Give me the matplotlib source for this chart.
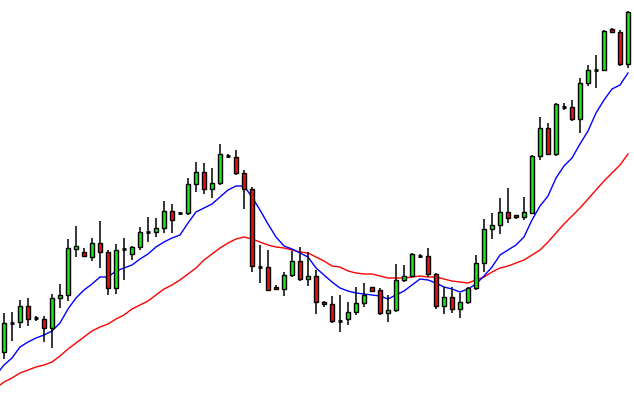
import numpy as np
import matplotlib
matplotlib.use("Agg")
import matplotlib.pyplot as plt

# OHLC (price units, higher = up)
opens = [48, 77, 78, 94, 82, 81, 72, 102, 105, 151, 148, 143, 157, 148, 112, 151, 146, 153, 168, 168,
         172, 189, 187, 187, 216, 228, 211, 217, 244, 243, 227, 211, 133, 133, 113, 111, 125, 139, 121, 124,
         98, 96, 79, 81, 88, 97, 113, 110, 87, 90, 120, 124, 144, 144, 126, 94, 103, 91, 98, 112,
         137, 171, 175, 188, 185, 183, 187, 244, 272, 246, 293, 293, 281, 317, 330, 330, 371, 368, 336]
highs = [87, 88, 100, 102, 84, 84, 106, 116, 161, 174, 152, 162, 179, 150, 156, 162, 154, 173, 183, 182,
         199, 196, 188, 222, 238, 237, 232, 256, 246, 250, 230, 213, 155, 150, 115, 128, 149, 153, 148, 130,
         99, 104, 105, 98, 113, 117, 113, 112, 105, 136, 135, 147, 146, 152, 127, 113, 113, 107, 113, 145,
         181, 187, 202, 212, 185, 203, 245, 283, 277, 297, 297, 300, 322, 335, 345, 370, 372, 370, 389]
lows = [41, 59, 72, 74, 79, 58, 52, 92, 99, 143, 143, 139, 132, 105, 106, 120, 140, 150, 158, 163,
        167, 167, 186, 185, 208, 206, 202, 215, 242, 225, 191, 128, 117, 110, 111, 104, 123, 119, 114, 86,
        93, 77, 68, 75, 85, 93, 108, 85, 78, 88, 118, 123, 142, 123, 91, 86, 87, 82, 96, 110,
        128, 161, 166, 177, 181, 180, 187, 240, 246, 244, 290, 279, 267, 314, 312, 330, 367, 334, 332]
closes = [77, 77, 94, 81, 82, 72, 102, 105, 152, 154, 144, 157, 148, 112, 150, 151, 153, 168, 168, 172,
          189, 180, 187, 216, 228, 211, 217, 246, 244, 227, 211, 134, 133, 110, 111, 125, 139, 121, 124, 98,
          96, 79, 79, 88, 97, 105, 109, 87, 90, 120, 124, 146, 144, 126, 94, 103, 91, 98, 112, 137,
          171, 175, 188, 182, 183, 188, 244, 272, 246, 296, 293, 281, 317, 330, 330, 369, 368, 336, 388]

# moving averages (first value sits half a bar left of the first candle)
ma_fast = [30, 35, 42, 53, 58, 62, 65, 69, 77, 91, 102, 110, 116, 123, 123, 129, 132, 135, 141, 146, 153,
           158, 162, 165, 177, 188, 192, 196, 203, 210, 214, 214, 203, 190, 176, 163, 154, 151, 147, 143, 132,
           125, 118, 112, 109, 107, 106, 105, 104, 101, 105, 109, 115, 121, 120, 117, 113, 111, 108, 111, 116,
           124, 133, 145, 150, 155, 163, 180, 194, 204, 222, 234, 242, 256, 269, 287, 300, 311, 315, 327]
ma_slow = [15, 18, 22, 27, 30, 33, 35, 38, 44, 51, 57, 63, 69, 73, 76, 81, 85, 91, 95, 99, 105,
           111, 115, 120, 126, 132, 140, 146, 152, 157, 161, 163, 161, 158, 155, 153, 152, 150, 148, 147, 143,
           139, 134, 133, 129, 127, 126, 126, 124, 122, 122, 122, 123, 124, 123, 123, 121, 119, 118, 117, 120,
           123, 128, 132, 134, 137, 140, 145, 150, 158, 167, 176, 184, 192, 201, 210, 219, 227, 235, 246]

UP = "#1ee01e"
DOWN = "#e01414"


def main():
    n = len(opens)
    idx = np.arange(n)
    o = np.array(opens, float)
    h = np.array(highs, float)
    l = np.array(lows, float)
    c = np.array(closes, float)

    fig = plt.figure(figsize=(6.34, 3.95), dpi=100)
    ax = fig.add_axes([0, 0, 1, 1])
    ax.set_axis_off()

    ma_x = np.concatenate([[-0.5], idx])
    ax.plot(ma_x, ma_slow, color="#ff0000", lw=1.0, zorder=1)
    ax.plot(ma_x, ma_fast, color="#0000ff", lw=1.0, zorder=1)

    ax.vlines(idx, l, h, color="black", lw=1.1, zorder=2)

    w = 0.6
    for i in range(n):
        if o[i] == c[i]:
            ax.hlines(o[i], i - w / 2, i + w / 2, color="black", lw=2, zorder=3)
            continue
        col = UP if c[i] > o[i] else DOWN
        ax.bar(i, c[i] - o[i], bottom=o[i], width=w, color=col,
               edgecolor="black", linewidth=1.0, zorder=3)

    ax.set_xlim(-0.5, 78.75)
    ax.set_ylim(5, 400)

    fig.savefig("out.png", dpi=100, facecolor="white")
    plt.close(fig)


if __name__ == "__main__":
    main()
